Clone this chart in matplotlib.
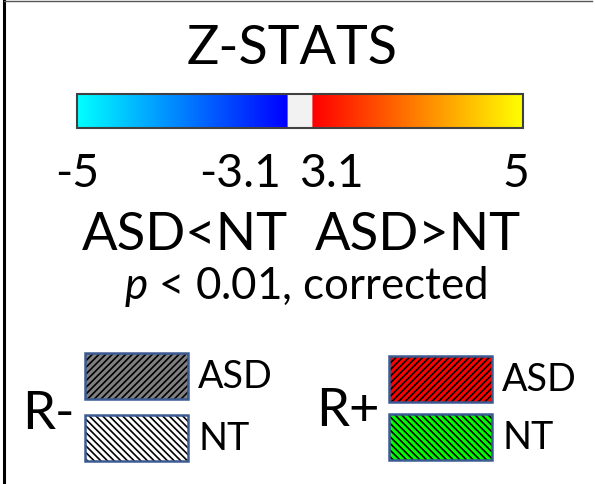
import numpy as np
import matplotlib
matplotlib.use('Agg')
import matplotlib.pyplot as plt
from matplotlib.colors import LinearSegmentedColormap
from matplotlib.patches import Rectangle

plt.rcParams['font.family'] = ['Lato', 'DejaVu Sans']
plt.rcParams['mathtext.fontset'] = 'custom'
plt.rcParams['mathtext.it'] = 'Lato:italic'
plt.rcParams['mathtext.rm'] = 'Lato'
plt.rcParams['hatch.linewidth'] = 1.2

# data
tick_values = [-5, -3.1, 3.1, 5]
tick_labels = ['-5', '-3.1', '3.1', '5']
groups = ['R-', 'R+']
subjects = ['ASD', 'NT']
fills = {('R-', 'ASD'): '#808080', ('R-', 'NT'): '#ffffff',
         ('R+', 'ASD'): '#ff0000', ('R+', 'NT'): '#00ff00'}
hatches = {'ASD': '/////', 'NT': '\\\\\\\\\\'}

fig = plt.figure(figsize=(5.95, 4.84), dpi=100)
ax = fig.add_axes([0, 0, 1, 1])
ax.axis('off')
ax.set_xlim(0, 595)
ax.set_ylim(484, 0)
rend = fig.canvas.get_renderer()
CAP = 0.7165  # Lato cap height / em
PX = 100 / 72.


def pick_size(s, width, cap, wcap=0.5):
    # between the size that matches the width and the one that matches cap height
    t = ax.text(0, 0, s, fontsize=10)
    w = t.get_window_extent(rend).width
    t.remove()
    fw = 10 * width / w
    fc = cap / CAP / PX
    return fw ** (1 - wcap) * fc ** wcap


# frame
ax.plot([4, 4], [0, 484], color='black', lw=2.2)
ax.plot([4, 592], [1, 1], color='#555555', lw=1)

# colour bar: cyan->blue, gray gap, red->yellow
x0, x1 = 77, 523
gap = 26
f_lo = (x1 - x0 - gap) / 2 / (x1 - x0)
f_hi = 1 - f_lo
cmap = LinearSegmentedColormap.from_list('zstat', [
    (0, '#00ffff'), (f_lo, '#0000ff'), (f_lo + 1e-4, '#f2f2f2'),
    (f_hi - 1e-4, '#f2f2f2'), (f_hi, '#ff0000'), (1, '#ffff00')])
grad = np.linspace(0, 1, 900)[None, :]
ax.imshow(grad, cmap=cmap, aspect='auto', extent=[x0, x1, 128, 94],
          interpolation='bilinear', zorder=2)
ax.add_patch(Rectangle((x0, 94), x1 - x0, 34, fill=False,
                       edgecolor='#404040', lw=1.5, zorder=3))
ax.set_xlim(0, 595)
ax.set_ylim(484, 0)

ax.text(292, 64, 'Z-STATS', ha='center', va='baseline',
        fontsize=pick_size('Z-STATS', 195, 42))

fs_tick = pick_size('-3.1', 80, 34)
tick_x = [77, 240, 331, 516]
for tx, tl in zip(tick_x, tick_labels):
    ax.text(tx, 187, tl, ha='center', va='baseline', fontsize=fs_tick)

fs_dir = pick_size('ASD<NT', 204, 38)
ax.text(185, 250, 'ASD<NT', ha='center', va='baseline', fontsize=fs_dir)
ax.text(418, 250, 'ASD>NT', ha='center', va='baseline', fontsize=fs_dir)
ptxt = r'$\it{p}$ < 0.01, corrected'
ax.text(306, 299, ptxt, ha='center', va='baseline',
        fontsize=pick_size(ptxt, 398, 29))

# legend boxes
gx = {'R-': 85, 'R+': 389}
gy = {('R-', 'ASD'): 353, ('R-', 'NT'): 415,
      ('R+', 'ASD'): 356, ('R+', 'NT'): 414}
fs_sub = pick_size('ASD', 75, 27, 0.7)
fs_grp = pick_size('R+', 62, 38, 0.7)
grp_x = {'R-': 22, 'R+': 316}
grp_base = {'R-': 429, 'R+': 426}
for g in groups:
    for s in subjects:
        bx, by = gx[g], gy[(g, s)]
        ax.add_patch(Rectangle((bx, by), 103, 46, facecolor=fills[(g, s)],
                               edgecolor='black', hatch=hatches[s], lw=0,
                               zorder=2))
        ax.add_patch(Rectangle((bx, by), 103, 46, fill=False,
                               edgecolor='#3b5b92', lw=1.8, zorder=3))
        ax.text(bx + 113, by + 35, s, ha='left', va='baseline', fontsize=fs_sub)
    ax.text(grp_x[g], grp_base[g], g, ha='left', va='baseline', fontsize=fs_grp)

fig.savefig('out.png', dpi=100)
